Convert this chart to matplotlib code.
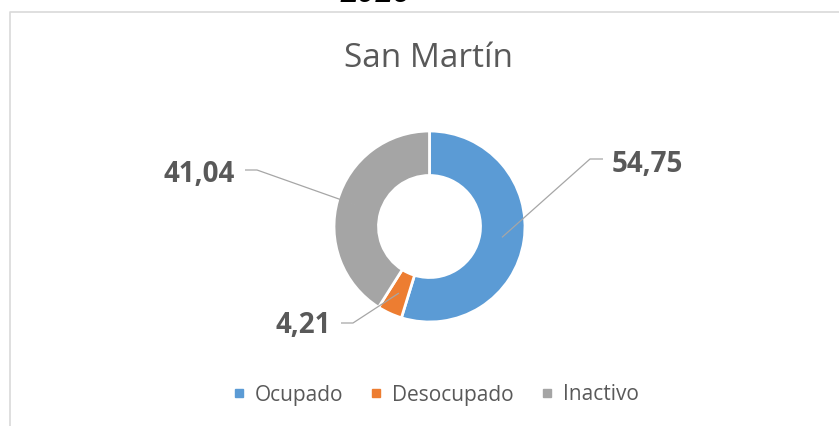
import matplotlib
matplotlib.use("Agg")
import matplotlib.pyplot as plt
from matplotlib.lines import Line2D
import numpy as np

# data
categories = ["Ocupado", "Desocupado", "Inactivo"]
values = [54.75, 4.21, 41.04]
value_labels = ["54,75", "4,21", "41,04"]
colors = ["#5b9bd5", "#ed7d31", "#a5a5a5"]
title = "San Martín"
header = "2016"

W, H = 839, 426
fig = plt.figure(figsize=(W / 100, H / 100), dpi=100)
ax = fig.add_axes([0, 0, 1, 1])

cx, cy, R = 429.5, 199.5, 95.5
ring = 44.5
wedges, _ = ax.pie(values, colors=colors, startangle=90, counterclock=False,
                   radius=R, center=(cx, cy),
                   wedgeprops=dict(width=ring, edgecolor="white", linewidth=2))
ax.set_xlim(0, W)
ax.set_ylim(0, H)
ax.set_aspect("equal")
ax.axis("off")

grey_txt = "#595959"
line_col = "#a6a6a6"

# chart frame (partly cut off in the reference)
ax.plot([9.5, 9.5, W + 5], [-5, 414.5, 414.5], color="#d9d9d9", lw=1.2,
        clip_on=False)

# header of the page, cut off at the top edge like in the reference
ax.text(375, 423.5, header, ha="center", va="baseline", fontsize=22.5,
        fontweight="bold", fontstyle="italic", family="Liberation Sans",
        color="black")

ax.text(429, 359, title, ha="center", va="baseline", fontsize=24,
        family="Open Sans", color=grey_txt)

# label layout: text centre x, baseline y, elbow point, line end near text
label_x = [647, 303.5, 199]
label_y = [254, 93, 244]
elbow = [(590, 267), (353, 103), (257, 256)]
line_end = [(603, 267), (341, 103), (245, 256)]

cum = np.cumsum([0] + values[:-1])
r_mid = R - ring / 2
for i, v in enumerate(values):
    ang = np.deg2rad(90 - (cum[i] + v / 2) / sum(values) * 360)
    px, py = cx + r_mid * np.cos(ang), cy + r_mid * np.sin(ang)
    ax.plot([px, elbow[i][0], line_end[i][0]], [py, elbow[i][1], line_end[i][1]],
            color=line_col, lw=0.9, solid_capstyle="butt")
    ax.text(label_x[i], label_y[i], value_labels[i], ha="center", va="baseline",
            fontsize=20, fontweight="bold", family="Open Sans", color=grey_txt)

handles = [Line2D([], [], marker="s", color=c, linestyle="none", markersize=6)
           for c in colors]
leg = ax.legend(handles, categories, loc="center", bbox_to_anchor=(435.5, 31),
                bbox_transform=ax.transData, ncol=3, frameon=False,
                prop={"family": "Open Sans", "size": 15}, handlelength=0.6,
                handletextpad=0.45, columnspacing=1.3)
for t in leg.get_texts():
    t.set_color(grey_txt)

fig.savefig("out.png", dpi=100)
